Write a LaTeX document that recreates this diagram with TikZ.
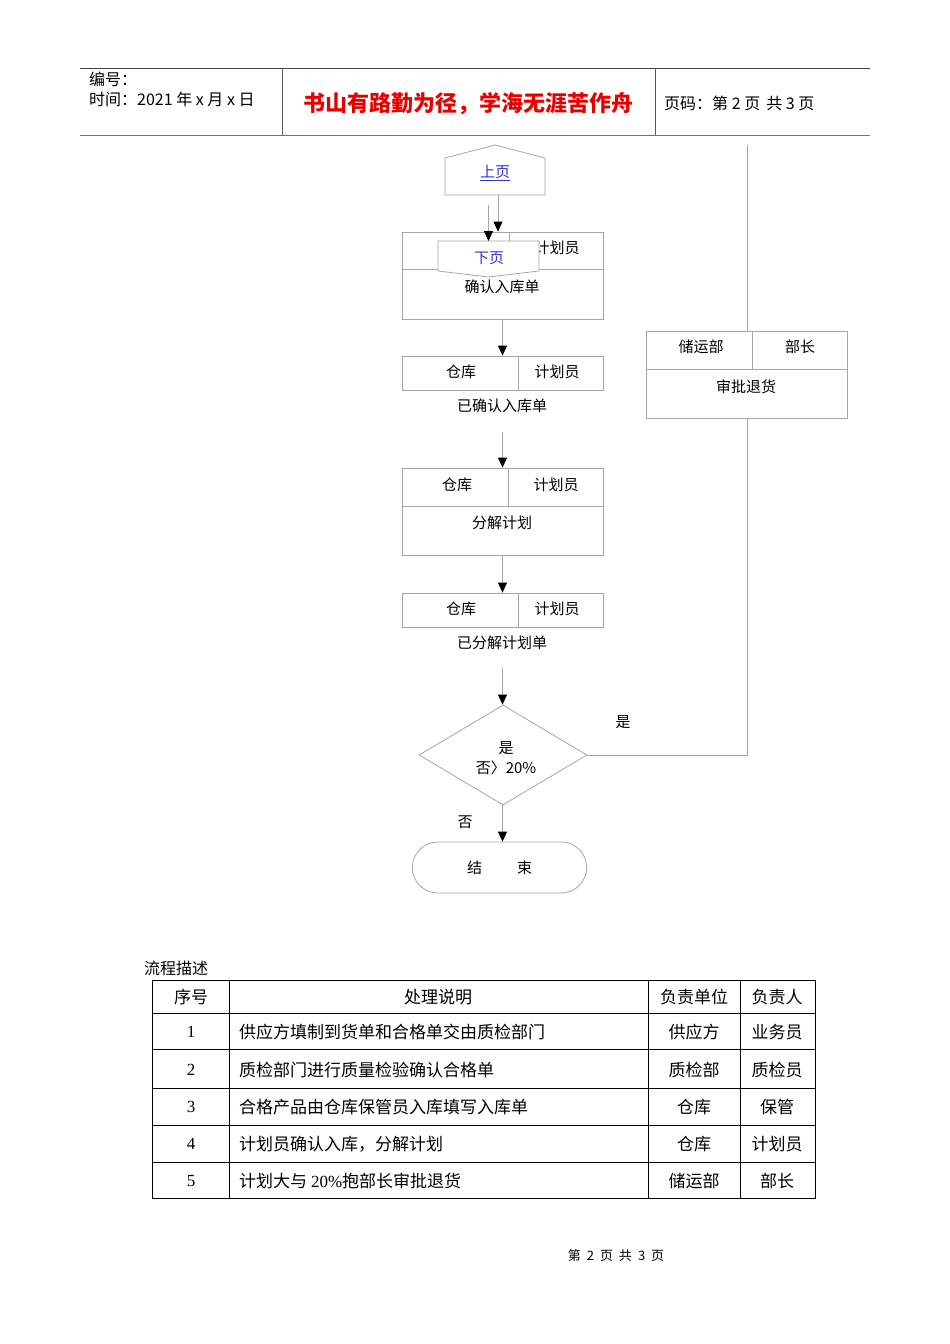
\documentclass[tikz,border=0pt]{standalone}
\usepackage{fontspec}
\setmainfont{Liberation Serif}
\newfontfamily\cjk{Noto Sans CJK SC}
\usetikzlibrary{positioning,arrows.meta,calc,shapes.geometric,shapes.misc}
\definecolor{linegray}{HTML}{A6A6A6}
\definecolor{titlered}{HTML}{E60000}
\definecolor{linkblue}{HTML}{3535C8}

\begin{document}
\begin{tikzpicture}[x=1pt, y=-1pt,
    font=\cjk\fontsize{15}{18}\selectfont,
    ln/.style={draw=linegray, line width=0.8pt},
    arr/.style={ln, -{Triangle[length=10pt,width=9pt,color=black]}},
    box/.style={ln, minimum width=201pt, minimum height=87pt, inner sep=0pt},
    slim/.style={box, minimum height=34pt},
    hd/.style={font=\cjk\fontsize{16}{19}\selectfont, inner sep=0pt},
    tbl/.style={draw=black, line width=0.9pt},
    cell/.style={font=\cjk\fontsize{17}{20}\selectfont, inner sep=0pt}
  ]
    \fill[white] (0,0) rectangle (950,1344);
    \useasboundingbox (0,0) rectangle (950,1344);

    % page header
    \draw[line width=0.8pt, black!75] (80,68) -- (870,68);
    \draw[line width=1.6pt, black!55] (80,135.5) -- (870,135.5);
    \draw[line width=0.8pt, black!65] (282,68) -- (282,135) (655,68) -- (655,135);
    \node[hd, anchor=west] (hno)   at (89,79)  {编号：};
    \node[hd, anchor=west] (hdate) at (89,99)  {时间：2021 年 x 月 x 日};
    \node[font=\cjk\bfseries\fontsize{22}{26}\selectfont, text=titlered, inner sep=0pt]
      (title) at (468,104) {书山有路勤为径，学海无涯苦作舟};
    \node[hd, anchor=west] (hpage) at (664,103) {页码：第 2 页\hspace{6pt}共 3 页};

    % off-page connector (previous page)
    \draw[ln] (445,195) -- (445,158) -- (495,145) -- (545,158) -- (545,195) -- cycle;
    \node[text=linkblue] (prev) at (495,173) {\underline{上页}};

    % step boxes
    \node[box]  (b1) at (502.5,275.5) {};
    \draw[ln] ($(b1.north west)+(0,38)$) -- ($(b1.north east)+(0,38)$);
    \draw[ln] ($(b1.north west)+(107.5,0)$) -- ++(0,38);
    \node (b1l) at (457,251) {仓库};
    \node (b1r) at (557,248) {计划员};
    \node (b1m) at (502,287) {确认入库单};

    % off-page connector (next page) over the first box
    \filldraw[ln, fill=white] (438,241) -- (539,241) -- (539,271) -- (488.5,277) -- (438,271) -- cycle;
    \node[text=linkblue] (next) at (489,258) {下页};

    \node[slim] (b2) at (502.5,373) {};
    \draw[ln] ($(b2.north west)+(117,0)$) -- ($(b2.south west)+(117,0)$);
    \node (b2l) at (461,372) {仓库};
    \node (b2r) at (557,372) {计划员};
    \node (t2)  at (502,406) {已确认入库单};

    \node[box]  (b3) at (502.5,511.5) {};
    \draw[ln] ($(b3.north west)+(0,39)$) -- ($(b3.north east)+(0,39)$);
    \draw[ln] ($(b3.north west)+(107,0)$) -- ++(0,39);
    \node (b3l) at (457,485) {仓库};
    \node (b3r) at (556,485) {计划员};
    \node (b3m) at (502,523) {分解计划};

    \node[slim] (b4) at (502.5,610) {};
    \draw[ln] ($(b4.north west)+(117,0)$) -- ($(b4.south west)+(117,0)$);
    \node (b4l) at (461,609) {仓库};
    \node (b4r) at (557,609) {计划员};
    \node (t4)  at (502,643) {已分解计划单};

    \node[diamond, ln, minimum width=168pt, minimum height=100pt, inner sep=0pt]
          (dm) at (503,755) {};
    \node[align=center, font=\cjk\fontsize{15}{20}\selectfont] (dmt) at (506,758)
          {是\\否〉20\%};
    \node[rounded rectangle, ln, minimum width=181pt, minimum height=51pt]
          (end) at (499.5,867.5) {结\hspace{35pt}束};
    \node (no)  at (465,822) {否};
    \node (yes) at (623,722) {是};

    \node[box] (b5) at (747,374.5) {};
    \draw[ln] ($(b5.north west)+(0,39)$) -- ($(b5.north east)+(0,39)$);
    \draw[ln] ($(b5.north west)+(106,0)$) -- ++(0,39);
    \node (b5l) at (701,347) {储运部};
    \node (b5r) at (800,347) {部长};
    \node (b5m) at (746,387) {审批退货};

    % connectors
    \coordinate (prevb) at (498,195);
    \coordinate (stray) at (488.5,205);
    \coordinate (nextt) at (488.5,241);
    \coordinate (c2) at (502.5,432);
    \coordinate (c4) at (502.5,668);
    \coordinate (topr) at (747,145);
    \draw[arr] (prevb) -- (prevb |- b1.north);
    \draw[arr] (stray) -- (nextt);
    \draw[arr] (b1) -- (b2);
    \draw[arr] (c2) -- (b3);
    \draw[arr] (b3) -- (b4);
    \draw[arr] (c4) -- (c4 |- dm.north);
    \draw[arr] (c4 |- dm.south) -- (c4 |- end.north);
    \draw[ln] (dm.east) -| (b5.south);
    \draw[ln] (topr) -- (b5.north);

    % process table
    \node[hd, anchor=west] (caption) at (144,968) {流程描述};
    \draw[tbl] (152,980) rectangle (815,1198);
    \foreach \y in {1013,1049,1088,1125,1162}
      \draw[tbl] (152,\y) -- (815,\y);
    \foreach \x in {229,648,740}
      \draw[tbl] (\x,980) -- (\x,1198);
    \node[cell] (hn) at (191,997) {序号};
    \node[cell] (hd) at (438,997) {处理说明};
    \node[cell] (hu) at (694,997) {负责单位};
    \node[cell] (hm) at (777,997) {负责人};
    \foreach \i/\y/\txt/\unit/\man in {
        1/1032/供应方填制到货单和合格单交由质检部门/供应方/业务员,
        2/1070/质检部门进行质量检验确认合格单/质检部/质检员,
        3/1107/合格产品由仓库保管员入库填写入库单/仓库/保管,
        4/1144/计划员确认入库，分解计划/仓库/计划员,
        5/1181/计划大与 {\rmfamily 20\%}抱部长审批退货/储运部/部长} {
      \node[cell, font=\rmfamily\fontsize{17}{20}\selectfont] (n\i) at (191,\y) {\i};
      \node[cell, anchor=west] (d\i) at (239,\y) {\txt};
      \node[cell] (u\i) at (694,\y) {\unit};
      \node[cell] (m\i) at (777,\y) {\man};
    }

    % page footer
    \node[font=\cjk\fontsize{13}{16}\selectfont] (foot) at (616,1256)
      {第\hspace{6pt}2\hspace{6pt}页\hspace{6pt}共\hspace{6pt}3\hspace{6pt}页};
\end{tikzpicture}
\end{document}
